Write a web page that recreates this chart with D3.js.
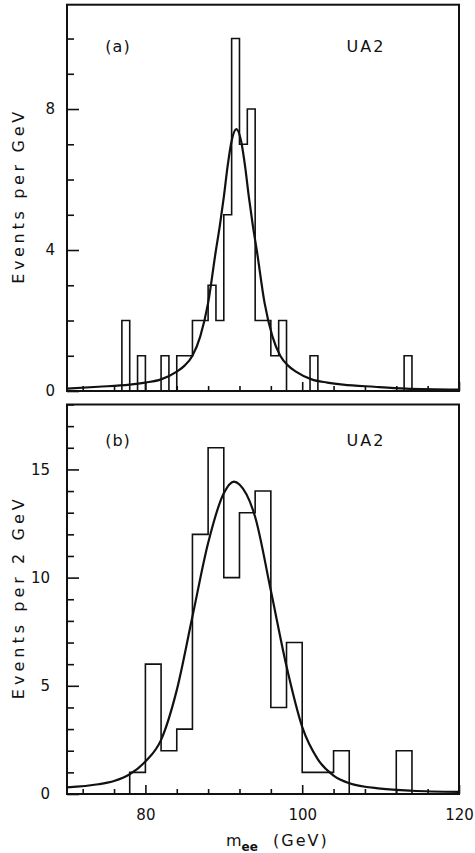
<!DOCTYPE html>
<html>
<head>
<meta charset="utf-8">
<script src="https://cdn.jsdelivr.net/npm/d3@7"></script>
<style>
  body { margin: 0; background: #fff; }
  text { font-family: "DejaVu Sans", sans-serif; fill: #111; }
</style>
</head>
<body>
<div id="chart"></div>
<script>
// panel (a): events per 1 GeV bin (lower bin edge, count)
const binLowA = [77, 79, 82, 84, 85, 86, 87, 88, 89, 90, 91, 92, 93, 94, 95, 96, 97, 101, 113];
const countA = [2, 1, 1, 1, 1, 2, 2, 3, 2, 5, 10, 7, 8, 2, 2, 1, 2, 1, 1];
// fitted curve
const fitXA = [70, 74, 78, 80, 82, 84, 85, 86, 87, 88, 89, 89.5, 90, 90.5, 91, 91.6, 92.2, 92.7, 93.2, 93.7, 94.2, 95.2, 96.2, 97.2, 98.2, 99.2, 101.2, 103.2, 105.2, 109.2, 113.2, 120];
const fitYA = [0.07, 0.12, 0.18, 0.24, 0.33, 0.55, 0.72, 1.0, 1.55, 2.5, 4.0, 4.7, 5.5, 6.4, 7.1, 7.43, 7.1, 6.4, 5.5, 4.7, 4.0, 2.5, 1.55, 1.0, 0.72, 0.55, 0.33, 0.24, 0.18, 0.12, 0.07, 0.04];

// panel (b): events per 2 GeV bin
const binLowB = [78, 80, 82, 84, 86, 88, 90, 92, 94, 96, 98, 100, 102, 104, 112];
const countB = [1, 6, 2, 3, 12, 16, 10, 13, 14, 4, 7, 1, 1, 2, 2];
const fitXB = [70, 74, 76, 78, 80, 82, 84, 86, 88, 90, 91.3, 92, 94, 96, 98, 100, 102, 104, 106, 110, 114, 120];
const fitYB = [0.31, 0.45, 0.6, 0.91, 1.5, 2.5, 4.8, 8.2, 11.6, 13.9, 14.44, 14.3, 12.8, 9.4, 5.9, 3.1, 1.6, 0.85, 0.5, 0.25, 0.15, 0.1];

const xMajor = [80, 100, 120];
const xMinor = [72, 76, 84, 88, 92, 96, 104, 108, 112, 116];
const yMajorA = [0, 4, 8];
const yMajorB = [0, 5, 10, 15];

const width = 475, height = 853;
const left = 67, right = 459;

const svg = d3.select("#chart").append("svg")
  .attr("width", width)
  .attr("height", height);

const x = d3.scaleLinear().domain([70, 120]).range([left, right]);

const panels = [
  { low: binLowA, count: countA, step: 1, fx: fitXA, fy: fitYA, top: 4.7, bottom: 391, max: 10.96,
    major: yMajorA, tag: "(a)", title: "Events per GeV", titleLen: 172, labelPad: 12 },
  { low: binLowB, count: countB, step: 2, fx: fitXB, fy: fitYB, top: 404.5, bottom: 794, max: 18,
    major: yMajorB, tag: "(b)", title: "Events per 2 GeV", titleLen: 200, labelPad: 17 }
];

panels.forEach((p, i) => {
  const y = d3.scaleLinear().domain([0, p.max]).range([p.bottom, p.top]);
  const g = svg.append("g");

  // histogram as a step outline over all bins
  const edges = d3.range(70, 120, p.step);
  const lookup = new Map(p.low.map((b, j) => [b, p.count[j]]));
  const pts = edges.map(e => [e, lookup.get(e) || 0]);
  pts.push([120, 0]);
  const step = d3.line()
    .x(d => x(d[0]))
    .y(d => y(d[1]))
    .curve(d3.curveStepAfter);
  g.append("path")
    .attr("d", step(pts))
    .attr("fill", "none")
    .attr("stroke", "#111")
    .attr("stroke-width", 1.6);

  // fit curve
  const fit = d3.line()
    .x(d => x(d[0]))
    .y(d => y(d[1]))
    .curve(d3.curveMonotoneX);
  g.append("path")
    .attr("d", fit(p.fx.map((v, j) => [v, p.fy[j]])))
    .attr("fill", "none")
    .attr("stroke", "#111")
    .attr("stroke-width", 2.2);

  // y ticks, pointing inwards
  const minorY = d3.range(0, Math.floor(p.max) + 1).filter(v => !p.major.includes(v));
  g.append("g")
    .attr("transform", `translate(${left},0)`)
    .call(d3.axisLeft(y).tickValues(minorY).tickSizeInner(-7).tickSizeOuter(0).tickFormat(""))
    .call(a => a.select(".domain").remove());
  g.append("g")
    .attr("transform", `translate(${left},0)`)
    .call(d3.axisLeft(y).tickValues(p.major).tickSizeInner(-12).tickSizeOuter(0).tickPadding(p.labelPad))
    .call(a => a.select(".domain").remove())
    .call(a => a.selectAll("text").attr("font-size", 15).attr("font-family", "DejaVu Sans"));

  // x ticks on the bottom edge
  g.append("g")
    .attr("transform", `translate(0,${p.bottom})`)
    .call(d3.axisBottom(x).tickValues(xMinor).tickSizeInner(-5).tickSizeOuter(0).tickFormat(""))
    .call(a => a.select(".domain").remove());
  g.append("g")
    .attr("transform", `translate(0,${p.bottom})`)
    .call(d3.axisBottom(x).tickValues(xMajor).tickSizeInner(-9).tickSizeOuter(0).tickPadding(15)
      .tickFormat(i === 1 ? d3.format("d") : ""))
    .call(a => a.select(".domain").remove())
    .call(a => a.selectAll("text").attr("font-size", 15).attr("font-family", "DejaVu Sans"));

  g.selectAll(".tick line").attr("stroke", "#111").attr("stroke-width", 1.6);

  // frame
  g.append("rect")
    .attr("x", left)
    .attr("y", p.top)
    .attr("width", right - left)
    .attr("height", p.bottom - p.top)
    .attr("fill", "none")
    .attr("stroke", "#111")
    .attr("stroke-width", 2);

  // labels
  g.append("text")
    .attr("x", 118).attr("y", p.top + (i === 0 ? 47 : 41))
    .attr("text-anchor", "middle")
    .attr("font-size", 16)
    .attr("letter-spacing", 1)
    .text(p.tag);
  g.append("text")
    .attr("x", 366).attr("y", p.top + (i === 0 ? 47 : 41))
    .attr("text-anchor", "middle")
    .attr("font-size", 16)
    .attr("letter-spacing", 2)
    .text("UA2");

  const cy = (p.top + p.bottom) / 2;
  g.append("text")
    .attr("transform", `translate(24,${cy}) rotate(-90)`)
    .attr("text-anchor", "middle")
    .attr("font-size", 16)
    .attr("textLength", p.titleLen)
    .attr("lengthAdjust", "spacing")
    .text(p.title);
});

// x axis title
const xt = svg.append("text")
  .attr("x", 226).attr("y", 846)
  .attr("font-size", 16);
xt.append("tspan").text("m");
xt.append("tspan").attr("dy", 5).attr("font-size", 12).attr("font-weight", "bold").text("ee");
xt.append("tspan").attr("x", 273).attr("dy", -5).attr("letter-spacing", 2).text("(GeV)");
</script>
</body>
</html>
